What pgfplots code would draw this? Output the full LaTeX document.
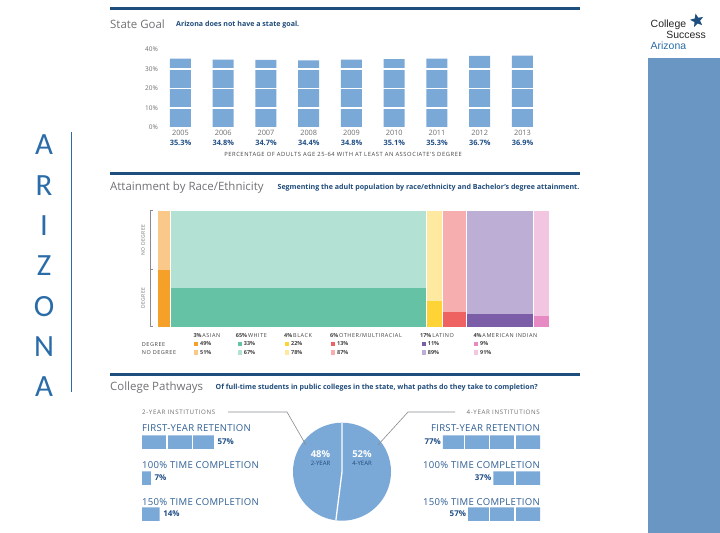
\documentclass[border=0pt]{standalone}
\usepackage{fontspec}
\setmainfont{Open Sans}
\newfontfamily\carlito{Carlito}
\newfontfamily\arialf{Liberation Sans}
\newfontfamily\spaced[LetterSpace=10]{Open Sans}
\newfontfamily\lspaced[LetterSpace=3]{Open Sans}
\usepackage{pgfplots}
\pgfplotsset{compat=1.18}
\usepackage{pgfplotstable}
\usetikzlibrary{shapes.geometric}

\definecolor{navy}{HTML}{1D4E7E}
\definecolor{barblue}{HTML}{7BA9D7}
\definecolor{ttlgray}{HTML}{707174}
\definecolor{lblgray}{HTML}{6D6E71}
\definecolor{subblue}{HTML}{1F4B7A}
\definecolor{valblue}{HTML}{1F4E86}
\definecolor{catblue}{HTML}{2F5F94}
\definecolor{azblue}{HTML}{2A6CA8}
\definecolor{panel}{HTML}{6A96C4}
\definecolor{legtxt}{HTML}{404040}
\definecolor{asD}{HTML}{F5A028}
\definecolor{asN}{HTML}{FAC98A}
\definecolor{whD}{HTML}{66C2A5}
\definecolor{whN}{HTML}{B3E2D4}
\definecolor{blD}{HTML}{FDD335}
\definecolor{blN}{HTML}{FDE9A0}
\definecolor{otD}{HTML}{EE6262}
\definecolor{otN}{HTML}{F6AFAE}
\definecolor{laD}{HTML}{7B5EA7}
\definecolor{laN}{HTML}{BDAED6}
\definecolor{aiD}{HTML}{E78AC3}
\definecolor{aiN}{HTML}{F2C6E0}

\newcommand\fs[1]{\fontsize{#1}{#1}\selectfont}

% college pathways: 2-year and 4-year institutions
\pgfplotstableread{
row value
1 57
2 7
3 14
}\twoyear
\pgfplotstableread{
row value
1 77
2 37
3 57
}\fouryear

\pgfplotsset{
  pathbar/.style={
    scale only axis, width=126bp, height=108bp,
    xmin=0, xmax=100, ymin=0.5, ymax=3.5, y dir=reverse,
    xbar, bar width=13.5bp, bar shift=0pt,
    /pgf/number format/assume math mode=true,
  },
  pathgrid/.style={
    axis line style={draw=none}, major tick length=0pt,
    xtick={20,40,60,80}, xticklabels={}, ytick=\empty,
    xmajorgrids, grid style={white, line width=1.5bp}, axis on top,
  },
}

\begin{document}
\begin{tikzpicture}[x=1bp, y=1bp]
\useasboundingbox (0,0) rectangle (720,-533);
\fill[white] (0,0) rectangle (720,-533);

% left side title and right panel
\foreach \l [count=\i from 0] in {A,R,I,Z,O,N,A}
  \node[text=azblue, font=\carlito\fs{31}, inner sep=0pt] at (44,{-145-40.33*\i}) {\l};
\draw[azblue, line width=1.3bp] (71.7,-132) -- (71.7,-392);
\fill[panel] (648,-58) rectangle (720,-533);
\node[star, star points=5, star point ratio=2.3, minimum size=14bp, inner sep=0pt, fill=navy, rotate=12] at (697,-20.5) {};
\node[anchor=west, inner sep=0pt, font=\arialf\fs{10.5}, text=black!85] at (650.5,-25) {College};
\node[anchor=east, inner sep=0pt, font=\arialf\fs{10.5}, text=black!85] at (706,-35) {Success};
\node[anchor=west, inner sep=0pt, font=\arialf\fs{10.5}, text=azblue] at (650.5,-45.5) {Arizona};

% section headers
\foreach \yy in {-9,-173.5,-374}
  \draw[navy, line width=3bp] (110,\yy) -- (580,\yy);
\node[anchor=west, inner sep=0pt, font=\fs{11.5}, text=ttlgray] at (110,-24) {State Goal};
\node[anchor=west, inner sep=0pt, font=\fs{7.1}\bfseries, text=subblue] at (176,-24.5) {Arizona does not have a state goal.};
\node[anchor=west, inner sep=0pt, font=\fs{11.5}, text=ttlgray] at (110,-187.5) {Attainment by Race/Ethnicity};
\node[anchor=east, inner sep=0pt, font=\fs{7.1}\bfseries, text=subblue] at (579.5,-188) {Segmenting the adult population by race/ethnicity and Bachelor's degree attainment.};
\node[anchor=west, inner sep=0pt, font=\fs{11.5}, text=ttlgray] at (110,-387.5) {College Pathways};
\node[anchor=west, inner sep=0pt, font=\fs{7.1}\bfseries, text=subblue] at (215.5,-388) {Of full-time students in public colleges in the state, what paths do they take to completion?};

% state goal bar chart
\begin{axis}[
  at={(159.1bp,-127.5bp)}, anchor=south west,
  scale only axis, width=384.75bp, height=78bp,
  xmin=2004.5, xmax=2013.5, ymin=0, ymax=40,
  ybar, bar width=21bp, bar shift=0pt,
  axis line style={draw=none}, major tick length=0pt,
  ytick={0,10,20,30,40},
  yticklabel={\pgfmathprintnumber{\tick}\%},
  /pgf/number format/assume math mode=true,
  yticklabel style={font=\fs{6.5}, text=lblgray, inner sep=0pt, xshift=-1bp},
  xtick=data,
  xticklabels={
    {2005\\\textbf{\textcolor{valblue}{35.3\%}}},
    {2006\\\textbf{\textcolor{valblue}{34.8\%}}},
    {2007\\\textbf{\textcolor{valblue}{34.7\%}}},
    {2008\\\textbf{\textcolor{valblue}{34.4\%}}},
    {2009\\\textbf{\textcolor{valblue}{34.8\%}}},
    {2010\\\textbf{\textcolor{valblue}{35.1\%}}},
    {2011\\\textbf{\textcolor{valblue}{35.3\%}}},
    {2012\\\textbf{\textcolor{valblue}{36.7\%}}},
    {2013\\\textbf{\textcolor{valblue}{36.9\%}}}},
  xticklabel style={font=\fontsize{7.4}{10.6}\selectfont, text=lblgray, align=center, inner sep=0pt, yshift=-2bp},
  ymajorgrids, grid style={white, line width=1.1bp}, axis on top,
]
\addplot[fill=barblue, draw=none] coordinates {
  (2005,35.3) (2006,34.8) (2007,34.7) (2008,34.4) (2009,34.8)
  (2010,35.1) (2011,35.3) (2012,36.7) (2013,36.9)};
\end{axis}
\node[font=\spaced\fs{5.8}, text=legtxt, inner sep=0pt] at (343,-154.5) {PERCENTAGE OF ADULTS AGE 25-64 WITH AT LEAST AN ASSOCIATE'S DEGREE};

% attainment mosaic: column widths are population shares, heights degree shares
\begin{axis}[
  at={(158.3bp,-326.7bp)}, anchor=south west,
  scale only axis, width=391bp, height=116bp,
  xmin=0, xmax=99, ymin=0, ymax=100, hide axis, clip=false,
  legend columns=6,
  legend image code/.code={\fill[#1] (0bp,-2.2bp) rectangle (4.4bp,2.2bp);},
  legend style={at={(0.0913,-0.13)}, anchor=north west, draw=none, fill=none,
    inner sep=0pt, outer sep=0pt, column sep=0pt, row sep=3.9bp,
    nodes={inner sep=0pt, outer sep=0pt, anchor=west, text height=4bp, text depth=0.5bp,
      font=\fs{5.5}\bfseries, text=legtxt}},
]
\addplot[fill=asD, draw=none] coordinates {(0,0)(3,0)(3,49)(0,49)} -- cycle;
\addplot[fill=whD, draw=none] coordinates {(3,0)(68,0)(68,33)(3,33)} -- cycle;
\addplot[fill=blD, draw=none] coordinates {(68,0)(72,0)(72,22)(68,22)} -- cycle;
\addplot[fill=otD, draw=none] coordinates {(72,0)(78,0)(78,13)(72,13)} -- cycle;
\addplot[fill=laD, draw=none] coordinates {(78,0)(95,0)(95,11)(78,11)} -- cycle;
\addplot[fill=aiD, draw=none] coordinates {(95,0)(99,0)(99,9)(95,9)} -- cycle;
\addplot[fill=asN, draw=none] coordinates {(0,49)(3,49)(3,100)(0,100)} -- cycle;
\addplot[fill=whN, draw=none] coordinates {(3,33)(68,33)(68,100)(3,100)} -- cycle;
\addplot[fill=blN, draw=none] coordinates {(68,22)(72,22)(72,100)(68,100)} -- cycle;
\addplot[fill=otN, draw=none] coordinates {(72,13)(78,13)(78,100)(72,100)} -- cycle;
\addplot[fill=laN, draw=none] coordinates {(78,11)(95,11)(95,100)(78,100)} -- cycle;
\addplot[fill=aiN, draw=none] coordinates {(95,9)(99,9)(99,100)(95,100)} -- cycle;
\addplot[white, line width=1bp, forget plot] coordinates {(3,0)(3,100)};
\addplot[white, line width=1bp, forget plot] coordinates {(68,0)(68,100)};
\addplot[white, line width=1bp, forget plot] coordinates {(72,0)(72,100)};
\addplot[white, line width=1bp, forget plot] coordinates {(78,0)(78,100)};
\addplot[white, line width=1bp, forget plot] coordinates {(95,0)(95,100)};
\legend{
  \makebox[39.3bp][l]{\hspace{1.8bp}49\%}, \makebox[42.9bp][l]{\hspace{1.8bp}33\%},
  \makebox[41.6bp][l]{\hspace{1.8bp}22\%}, \makebox[86.3bp][l]{\hspace{1.8bp}13\%},
  \makebox[47.9bp][l]{\hspace{1.8bp}11\%}, \makebox[20bp][l]{\hspace{1.8bp}9\%},
  \makebox[39.3bp][l]{\hspace{1.8bp}51\%}, \makebox[42.9bp][l]{\hspace{1.8bp}67\%},
  \makebox[41.6bp][l]{\hspace{1.8bp}78\%}, \makebox[86.3bp][l]{\hspace{1.8bp}87\%},
  \makebox[47.9bp][l]{\hspace{1.8bp}89\%}, \makebox[20bp][l]{\hspace{1.8bp}91\%}}
\end{axis}
% bracket and row labels of the mosaic
\draw[lblgray!80, line width=0.6bp] (153,-210.7) -- (150,-210.7) -- (150,-326.7) -- (153,-326.7)
  (150,-269) -- (153,-269);
\node[rotate=90, font=\spaced\fs{5}, text=lblgray, inner sep=0pt] at (143,-240) {NO DEGREE};
\node[rotate=90, font=\spaced\fs{5}, text=lblgray, inner sep=0pt] at (143,-298) {DEGREE};
\foreach \xx/\pc/\nm in {193.3/3/ASIAN, 235.7/65/WHITE, 284/4/BLACK, 330/6/{OTHER/MULTIRACIAL}, 420/17/LATINO, 473.3/4/AMERICAN INDIAN}
  \node[anchor=west, inner sep=0pt, font=\fs{5.5}, text=legtxt] at (\xx,-336) {\textbf{\pc\%}\,{\spaced\nm}};
\node[anchor=west, inner sep=0pt, font=\spaced\fs{5.5}, text=legtxt] at (141.7,-344.3) {DEGREE};
\node[anchor=west, inner sep=0pt, font=\spaced\fs{5.5}, text=legtxt] at (141.7,-352.7) {NO DEGREE};

% college pathways pie: share of students by institution type
\begin{axis}[
  at={(342bp,-471.7bp)}, anchor=center, scale only axis, width=98bp, height=98bp,
  xmin=-1, xmax=1, ymin=-1, ymax=1, hide axis, clip=false,
]
\fill[barblue] (axis cs:0,0) -- (axis cs:0,1) arc[start angle=90, delta angle={-3.6*52}, radius=49bp] -- cycle;
\fill[barblue] (axis cs:0,0) -- (axis cs:0,1) arc[start angle=90, delta angle={3.6*48}, radius=49bp] -- cycle;
\draw[white, line width=1.3bp] (axis cs:0,1) -- (axis cs:0,0) -- (axis cs:{cos(90-3.6*52)},{sin(90-3.6*52)});
\end{axis}
\node[font=\fs{9.5}\bfseries, text=white, inner sep=0pt] at (320.5,-454) {48\%};
\node[font=\fs{6}, text=subblue, inner sep=0pt] at (320.5,-463.5) {2-YEAR};
\node[font=\fs{9.5}\bfseries, text=white, inner sep=0pt] at (362,-454) {52\%};
\node[font=\fs{6}, text=subblue, inner sep=0pt] at (362,-463.5) {4-YEAR};
\draw[lblgray!80, line width=0.6bp] (228,-412) -- (287,-412) -- (306,-445);
\draw[lblgray!80, line width=0.6bp] (455,-412) -- (408,-412) -- (378,-445);

% 2-year institutions bars
\begin{axis}[pathbar, pathgrid, at={(142bp,-424bp)}, anchor=north west]
\addplot[fill=barblue, draw=none] table[x=value, y=row] {\twoyear};
\end{axis}
\begin{axis}[pathbar, hide axis, at={(142bp,-424bp)}, anchor=north west]
\addplot[draw=none, fill=none, point meta=x,
  nodes near coords={\pgfmathprintnumber{\pgfplotspointmeta}\%},
  nodes near coords style={anchor=west, xshift=3.5bp, inner sep=0pt, font=\fs{8}\bfseries, text=valblue}]
  table[x=value, y=row] {\twoyear};
\end{axis}
% 4-year institutions bars
\begin{axis}[pathbar, pathgrid, x dir=reverse, at={(540bp,-424bp)}, anchor=north east]
\addplot[fill=barblue, draw=none] table[x=value, y=row] {\fouryear};
\end{axis}
\begin{axis}[pathbar, hide axis, x dir=reverse, at={(540bp,-424bp)}, anchor=north east]
\addplot[draw=none, fill=none, point meta=x,
  nodes near coords={\pgfmathprintnumber{\pgfplotspointmeta}\%},
  nodes near coords style={anchor=east, xshift=-2bp, inner sep=0pt, font=\fs{8}\bfseries, text=valblue}]
  table[x=value, y=row] {\fouryear};
\end{axis}

\node[anchor=west, inner sep=0pt, font=\spaced\fs{6.2}, text=lblgray] at (142,-412) {2-YEAR INSTITUTIONS};
\node[anchor=east, inner sep=0pt, font=\spaced\fs{6.2}, text=lblgray] at (540,-412) {4-YEAR INSTITUTIONS};
\foreach \yy/\txt in {-428/FIRST-YEAR RETENTION, -465/100\% TIME COMPLETION, -502/150\% TIME COMPLETION} {
  \node[anchor=west, inner sep=0pt, font=\lspaced\fs{9.6}, text=catblue] at (142,\yy) {\txt};
  \node[anchor=east, inner sep=0pt, font=\lspaced\fs{9.6}, text=catblue] at (540,\yy) {\txt};
}
\end{tikzpicture}
\end{document}
